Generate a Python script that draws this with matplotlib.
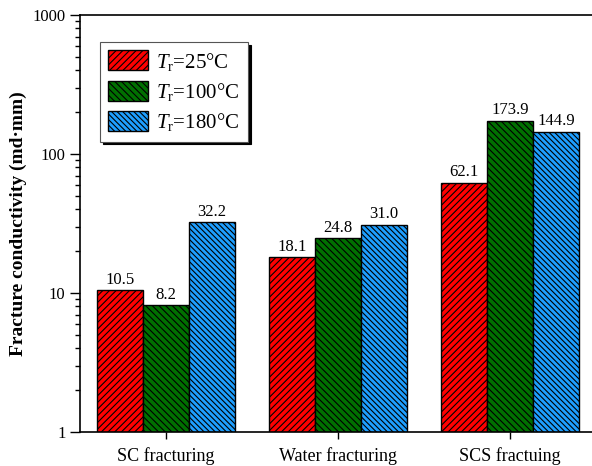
import numpy as np
import matplotlib
matplotlib.use('Agg')
import matplotlib.pyplot as plt
from matplotlib.ticker import LogLocator, NullFormatter, FixedLocator, FixedFormatter

plt.rcParams['font.family'] = ['Liberation Serif', 'DejaVu Serif']
plt.rcParams['mathtext.fontset'] = 'custom'
plt.rcParams['mathtext.rm'] = 'Liberation Serif'
plt.rcParams['mathtext.it'] = 'Liberation Serif:italic'
plt.rcParams['hatch.linewidth'] = 0.8

# data
categories = ['SC fracturing', 'Water fracturing', 'SCS fractuing']
series_labels = [r'$T_{\mathrm{r}}$=25°C', r'$T_{\mathrm{r}}$=100°C', r'$T_{\mathrm{r}}$=180°C']
vals_25 = [10.5, 18.1, 62.1]
vals_100 = [8.2, 24.8, 173.9]
vals_180 = [32.2, 31.0, 144.9]

colors = ['#ff0000', '#007000', '#1e9fff']
hatches = ['/////', '\\\\\\\\\\', '\\\\\\\\\\\\']

fig = plt.figure(figsize=(5.92, 4.66), dpi=100)
ax = fig.add_axes([80 / 592, 1 - 432 / 466, (596 - 80) / 592, (432 - 15) / 466])

x = np.arange(len(categories))
w = 0.267
for i, (vals, c, h, lab) in enumerate(zip([vals_25, vals_100, vals_180], colors, hatches, series_labels)):
    pos = x + (i - 1) * w
    ax.bar(pos, vals, w, color=c, edgecolor='black', linewidth=1.0, hatch=h, label=lab)
    for p, v in zip(pos, vals):
        ax.text(p, v * 1.04, f'{v:.1f}', ha='center', va='bottom', fontsize=12)

ax.set_yscale('log')
ax.set_ylim(1, 1000)
ax.set_xlim(-0.5, 2.5)
ax.set_xticks(x)
ax.set_xticklabels(categories, fontsize=13)
ax.yaxis.set_major_locator(FixedLocator([1, 10, 100, 1000]))
ax.yaxis.set_major_formatter(FixedFormatter(['1', '10', '100', '1000']))
ax.yaxis.set_minor_locator(LogLocator(base=10, subs=np.arange(2, 10)))
ax.yaxis.set_minor_formatter(NullFormatter())
ax.tick_params(axis='y', which='major', labelsize=12, direction='out', length=7, width=1)
ax.tick_params(axis='y', which='minor', direction='out', length=3.5, width=1)
ax.tick_params(axis='x', direction='out', length=5, width=1, pad=6)
ax.tick_params(top=False, right=False, which='both')
for s in ax.spines.values():
    s.set_linewidth(1.2)
ax.spines['right'].set_visible(False)

ax.set_ylabel('Fracture conductivity (md·mm)', fontsize=14, fontweight='bold', labelpad=4)

leg = ax.legend(loc='upper left', bbox_to_anchor=(0.039, 0.935), fontsize=15,
                shadow={'color': 'black', 'alpha': 1.0},
                fancybox=False, edgecolor='#555555', handlelength=1.9, handleheight=1.1,
                borderpad=0.4, labelspacing=0.4, handletextpad=0.4, borderaxespad=0)
leg.get_frame().set_linewidth(0.8)

fig.savefig('out.png', dpi=100)
